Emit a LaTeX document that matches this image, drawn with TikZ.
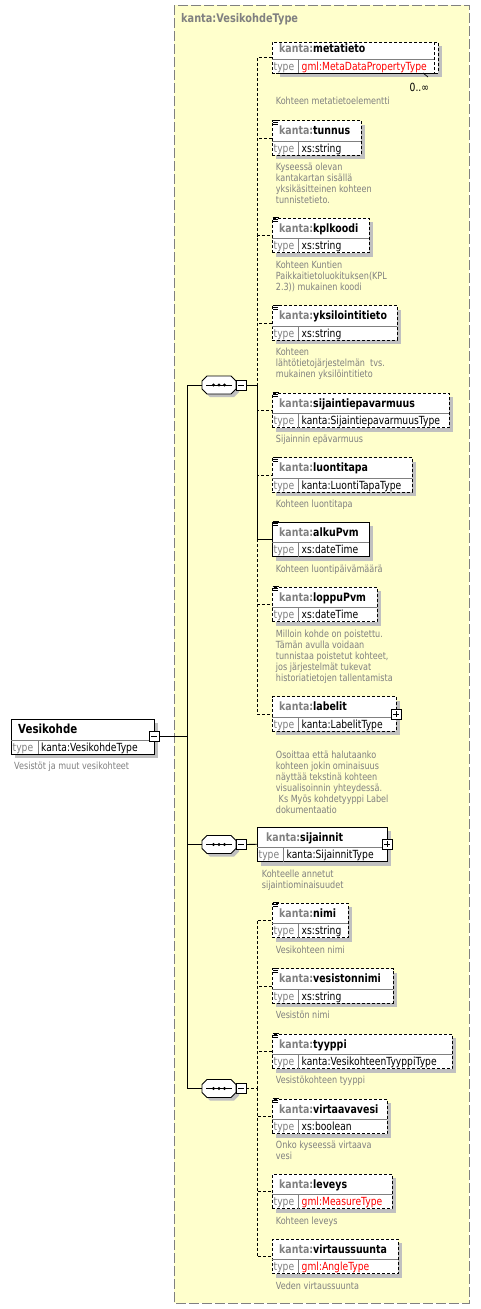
\documentclass[tikz,border=0pt]{standalone}
\usepackage{fontspec}
\newfontfamily\xsf[FakeStretch=0.82]{DejaVu Sans}
\definecolor{xgrey}{RGB}{128,128,128}
\definecolor{xshadow}{RGB}{192,192,192}
\definecolor{xyellow}{RGB}{255,255,204}
\definecolor{xred}{RGB}{255,0,0}
\tikzset{
 optbox/.style={draw=black, fill=white, line width=0.9pt, dash pattern=on 3pt off 2pt, rectangle},
 reqbox/.style={draw=black, fill=white, line width=0.9pt, rectangle},
 divline/.style={draw=xgrey, line width=0.7pt},
 nametext/.style={anchor=base west, inner sep=0, font=\xsf\bfseries\fontsize{11.5}{13}\selectfont},
 typelabel/.style={anchor=base west, inner sep=0, text=xgrey, font=\xsf\fontsize{11.2}{13}\selectfont},
 typetext/.style={anchor=base west, inner sep=0, font=\xsf\fontsize{11.2}{13}\selectfont},
 desc/.style={anchor=north west, inner sep=0, align=left, text=xgrey, font=\xsf\fontsize{9.85}{11}\selectfont},
 reqconn/.style={draw=black, line width=0.9pt},
 optconn/.style={draw=black, line width=0.9pt, dash pattern=on 3pt off 2pt},
 pmbox/.style={draw=black, fill=white, line width=0.8pt, minimum size=10pt, inner sep=0, rectangle},
}
% #1 id, #2 left, #3 top, #4 right, #5 style, #6 name, #7 type, #8 name offset
\newcommand\elbox[8]{%
 \fill[xshadow] (#2+4,#3+4) rectangle (#4+4,#3+38.5);
 \node[#5, anchor=north west, minimum width={#4-#2}, minimum height=34.5pt, inner sep=0, outer sep=0] (#1) at (#2,#3) {};
 \draw[divline] (#2,#3+20.5) -- (#4,#3+20.5);
 \draw[divline] (#2+26.5,#3+20.5) -- (#2+26.5,#3+34.5);
 \node[nametext] at (#2+#8,#3+14) {\textcolor{xgrey}{kanta:}#6};
 \node[typelabel] at (#2+1.5,#3+31.5) {type};
 \node[typetext] at (#2+29.5,#3+31.5) {#7};
}
\newcommand\docicon[2]{%
 \draw[line width=0.8pt] (#1+0.5,#2-0.5) -- (#1+6.5,#2-0.5) (#1+0.5,#2+1.5) -- (#1+5.5,#2+1.5) (#1+0.5,#2+3.5) -- (#1+5.5,#2+3.5);
}
\newcommand\pmminus[3]{\node[pmbox] (#1) at (#2,#3) {}; \draw[line width=0.8pt] (#2-3,#3) -- (#2+3,#3);}
\newcommand\pmplus[3]{\node[pmbox] (#1) at (#2,#3) {}; \draw[line width=0.8pt] (#2-3,#3) -- (#2+3,#3) (#2,#3-3) -- (#2,#3+3);}
% #1 id, #2 cy
\newcommand\seqc[2]{%
 \fill[xshadow] (205,#2-1) -- (210,#2-6) -- (234,#2-6) -- (239,#2-1) -- (239,#2+7) -- (234,#2+12) -- (210,#2+12) -- (205,#2+7) -- cycle;
 \draw[fill=white, line width=0.9pt] (202,#2-4) -- (207,#2-9) -- (231,#2-9) -- (236,#2-4) -- (236,#2+4) -- (231,#2+9) -- (207,#2+9) -- (202,#2+4) -- cycle;
 \coordinate (#1) at (202,#2);
 \draw[line width=0.9pt] (206,#2) -- (232,#2);
 \fill (213.5,#2) circle (1.7) (219,#2) circle (1.7) (224.5,#2) circle (1.7);
 \pmminus{#1m}{241}{#2}
}
\begin{document}
\begin{tikzpicture}[x=1pt,y=-1pt]
\useasboundingbox (0,0) rectangle (480,1309);
\fill[white] (0,0) rectangle (480,1309);
% type frame
\draw[fill=xyellow, draw=xgrey, line width=1pt, dash pattern=on 10pt off 3pt] (174,5) rectangle (469,1303);
\node[anchor=base west, inner sep=0, text=xgrey, font=\xsf\bfseries\fontsize{11.9}{13}\selectfont] (title) at (181,22.5) {kanta:VesikohdeType};

% root element
\fill[xshadow] (15,723) rectangle (158,758);
\node[reqbox, anchor=north west, minimum width=143, minimum height=35pt, inner sep=0, outer sep=0] (vk) at (11,719) {};
\draw[divline] (11,740) -- (154,740);
\draw[divline] (38,740) -- (38,754);
\node[anchor=base west, inner sep=0, font=\xsf\bfseries\fontsize{12.5}{14}\selectfont] at (18,733.5) {Vesikohde};
\node[typelabel] at (12.5,751) {type};
\node[typetext] at (41,751) {kanta:VesikohdeType};
\pmminus{vkm}{154}{736.5}
\node[desc] at (14,760.7) {\rule{0pt}{9pt}Vesistöt ja muut vesikohteet};

% compositors
\seqc{s1}{385}
\seqc{s2}{844.5}
\seqc{s3}{1088.5}

% metatieto (multiple occurrence)
\fill[xshadow] (280,46) rectangle (442,77);
\draw[optbox] (276,42) rectangle (438,73);
\node[optbox, anchor=north west, minimum width=162, minimum height=31pt, inner sep=0, outer sep=0] (metatieto) at (272,42) {};
\draw[divline] (272,59) -- (434,59);
\draw[divline] (298.5,59) -- (298.5,73);
\node[nametext] at (279,52.5) {\textcolor{xgrey}{kanta:}metatieto};
\node[typelabel] at (273.5,70) {type};
\node[typetext] at (301.5,70) {\textcolor{xred}{gml:MetaDataPropertyType}};
\draw[line width=0.7pt] (423,73) -- (428,77);
\node[typetext] (occ) at (409.5,91) {0..∞};
\node[desc] at (275.7,95.7) {\rule{0pt}{9pt}Kohteen metatietoelementti};

% sequence 1 children
\elbox{tunnus}{272}{120.7}{361}{optbox}{tunnus}{xs:string}{7}
\docicon{272}{120.7}
\node[desc] at (275.7,161.7) {\rule{0pt}{9pt}Kyseessä olevan\\kantakartan sisällä\\yksikäsitteinen kohteen\\tunnistetieto.};

\elbox{kplkoodi}{272}{218.3}{369}{optbox}{kplkoodi}{xs:string}{7}
\docicon{272}{218.3}
\node[desc] at (275.7,259.7) {\rule{0pt}{9pt}Kohteen Kuntien\\Paikkaitietoluokituksen(KPL\\2.3)) mukainen koodi};

\elbox{yksilointitieto}{272}{305.7}{397}{optbox}{yksilointitieto}{xs:string}{7}
\docicon{272}{305.7}
\node[desc] at (275.7,346.3) {\rule{0pt}{9pt}Kohteen\\lähtötietojärjestelmän\ \ tvs.\\mukainen yksilöintitieto};

\elbox{sijaintiepavarmuus}{272}{393}{449}{optbox}{sijaintiepavarmuus}{kanta:SijaintiepavarmuusType}{7}
\docicon{272}{393}
\node[desc] at (275.7,433.3) {\rule{0pt}{9pt}Sijainnin epävarmuus};

\elbox{luontitapa}{272}{457.7}{412}{optbox}{luontitapa}{kanta:LuontiTapaType}{7}
\docicon{272}{457.7}
\node[desc] at (275.7,498.3) {\rule{0pt}{9pt}Kohteen luontitapa};

\elbox{alkuPvm}{272}{522.3}{369}{reqbox}{alkuPvm}{xs:dateTime}{7}
\docicon{272}{522.3}
\node[desc] at (275.7,563.3) {\rule{0pt}{9pt}Kohteen luontipäivämäärä};

\elbox{loppuPvm}{272}{587.3}{377}{optbox}{loppuPvm}{xs:dateTime}{7}
\docicon{272}{587.3}
\node[desc] at (275.7,628.7) {\rule{0pt}{9pt}Milloin kohde on poistettu.\\Tämän avulla voidaan\\tunnistaa poistetut kohteet,\\jos järjestelmät tukevat\\historiatietojen tallentamista};

\elbox{labelit}{272}{696.7}{396}{optbox}{labelit}{kanta:LabelitType}{7}
\pmplus{labelitp}{396}{714}
\node[desc] at (275.7,749) {\rule{0pt}{9pt}Osoittaa että halutaanko\\kohteen jokin ominaisuus\\näyttää tekstinä kohteen\\visualisoinnin yhteydessä.\\\hspace*{2.8pt}Ks Myös kohdetyyppi Label\\dokumentaatio};

% sequence 2 child
\elbox{sijainnit}{257}{827}{387}{reqbox}{sijainnit}{kanta:SijainnitType}{9}
\pmplus{sijainnitp}{387}{844.3}
\node[desc] at (261.7,868.3) {\rule{0pt}{9pt}Kohteelle annetut\\sijaintiominaisuudet};

% sequence 3 children
\elbox{nimi}{272}{903.3}{348}{optbox}{nimi}{xs:string}{7}
\docicon{272}{903.3}
\node[desc] at (275.7,944) {\rule{0pt}{9pt}Vesikohteen nimi};

\elbox{vesistonnimi}{272}{968.8}{393}{optbox}{vesistonnimi}{xs:string}{7}
\docicon{272}{968.8}
\node[desc] at (275.7,1009) {\rule{0pt}{9pt}Vesistön nimi};

\elbox{tyyppi}{272}{1034}{452}{optbox}{tyyppi}{kanta:VesikohteenTyyppiType}{7}
\docicon{272}{1034}
\node[desc] at (275.7,1074) {\rule{0pt}{9pt}Vesistökohteen tyyppi};

\elbox{virtaavavesi}{272}{1099.3}{387}{optbox}{virtaavavesi}{xs:boolean}{7}
\docicon{272}{1099.3}
\node[desc] at (275.7,1139.7) {\rule{0pt}{9pt}Onko kyseessä virtaava\\vesi};

\elbox{leveys}{272}{1174.3}{392}{optbox}{leveys}{\textcolor{xred}{gml:MeasureType}}{7}
\node[desc] at (275.7,1215) {\rule{0pt}{9pt}Kohteen leveys};

\elbox{virtaussuunta}{272}{1239.3}{398}{optbox}{virtaussuunta}{\textcolor{xred}{gml:AngleType}}{7}
\node[desc] at (275.7,1280) {\rule{0pt}{9pt}Veden virtaussuunta};

% connectors
\coordinate (trunk) at (187,736.5);
\draw[reqconn] (vkm.east) -- (trunk);
\draw[reqconn] (trunk) |- (s1);
\draw[reqconn] (trunk) |- (s2);
\draw[reqconn] (trunk) |- (s3);

\coordinate (b1) at (257,385);
\foreach \c in {metatieto,tunnus,kplkoodi,yksilointitieto,sijaintiepavarmuus,luontitapa,loppuPvm,labelit}
  \draw[optconn] (s1m.east) -- (b1) |- (\c.west);
\draw[reqconn] (s1m.east) -- (b1) |- (alkuPvm.west);

\draw[reqconn] (s2m.east) -- (sijainnit.west);

\coordinate (b3) at (257,1088.5);
\foreach \c in {nimi,vesistonnimi,tyyppi,virtaavavesi,leveys,virtaussuunta}
  \draw[optconn] (s3m.east) -- (b3) |- (\c.west);
\end{tikzpicture}
\end{document}
